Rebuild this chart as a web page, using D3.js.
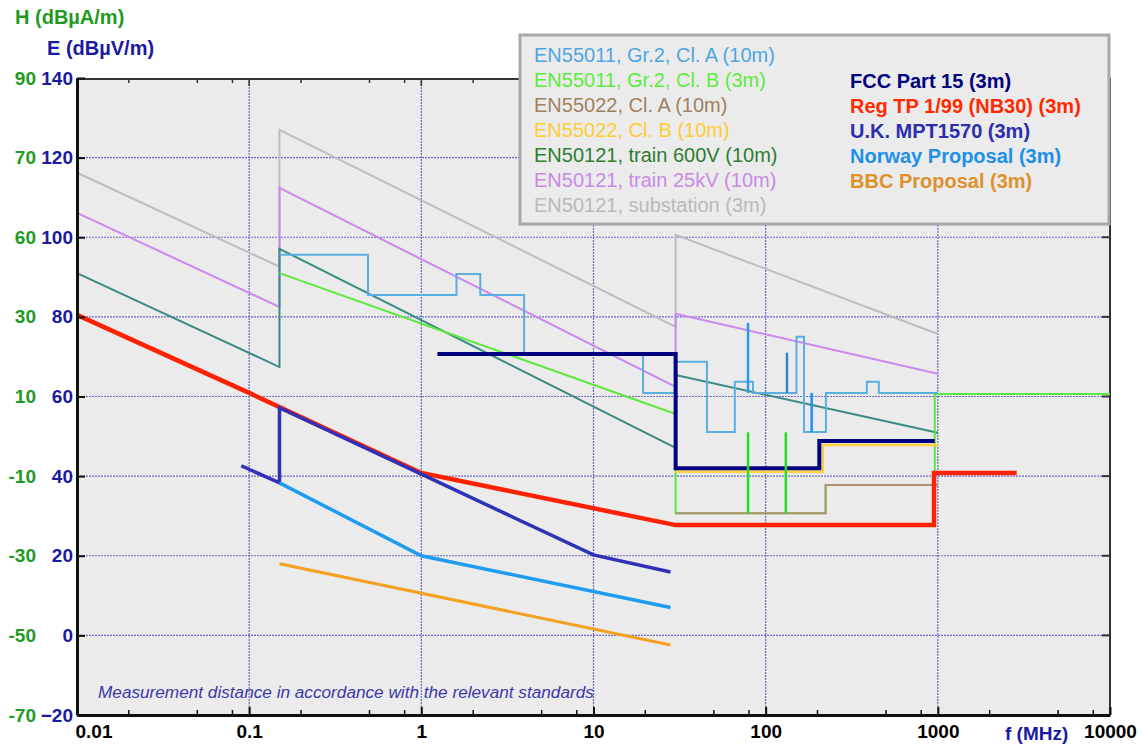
<!DOCTYPE html>
<html>
<head>
<meta charset="utf-8">
<script src="https://cdn.jsdelivr.net/npm/d3@7"></script>
<style>
  body { margin: 0; background: #ffffff; }
  svg { display: block; font-family: "Liberation Sans", Arial, sans-serif; }
</style>
</head>
<body>
<svg id="chart" width="1144" height="746"></svg>
<script>
// ---- axis ticks and labels ----
const freqTicks = [0.01, 0.1, 1, 10, 100, 1000, 10000];
const freqLabels = ["0.01", "0.1", "1", "10", "100", "1000", "10000"];
const freqMinor = [0.02, 0.05, 0.08, 0.2, 0.5, 0.8, 2, 5, 8, 20, 50, 80, 200, 500, 800, 2000, 5000, 8000];
const eTicks = [-20, 0, 20, 40, 60, 80, 100, 120, 140];
const hLabels = ["-70", "-50", "-30", "-10", "10", "30", "60", "70", "90"];

// ---- limit lines: [frequency MHz, field strength dBµV/m] ----
const en50121Substation = [[0.01, 116.2], [0.15, 92.6], [0.15, 127], [30, 77.5], [30, 100.6], [1000, 75.7]];
const en50121Train25kV  = [[0.01, 106.1], [0.15, 82.5], [0.15, 112.4], [30, 62.4], [30, 80.8], [1000, 65.7]];
const en50121Train600V  = [[0.01, 91], [0.15, 67.4], [0.15, 97.1], [30, 47.1], [30, 65.4], [1000, 50.9]];
const en55011ClB        = [[0.15, 91], [30, 55.6], [30, 30.7], [223, 30.7], [223, 37.8], [960, 37.8], [960, 60.6], [10000, 60.6]];
const en55011ClBSpikeA  = [[79, 30.7], [79, 51]];
const en55011ClBSpikeB  = [[131, 30.7], [131, 51]];
const en55022ClA        = [[30, 30.7], [223, 30.7], [223, 37.8], [1000, 37.8]];
const en55022ClB        = [[30, 41.1], [215, 41.1], [215, 47.8], [1000, 47.8]];
const en55011ClA        = [[0.15, 95.6], [0.49, 95.6], [0.49, 85.5], [1.6, 85.5], [1.6, 90.8], [2.2, 90.8], [2.2, 85.5],
                           [3.95, 85.5], [3.95, 70.7], [19.4, 70.7], [19.4, 60.9], [30, 60.9], [30, 68.7], [45.6, 68.7],
                           [45.6, 51.1], [66.2, 51.1], [66.2, 63.7], [84.4, 63.7], [84.4, 60.9], [151, 60.9], [151, 75],
                           [167, 75], [167, 51.1], [224, 51.1], [224, 60.9], [387, 60.9], [387, 63.7], [454, 63.7],
                           [454, 60.9], [1000, 60.9]];
const en55011ClASpike1  = [[79, 60.9], [79, 78.5]];
const en55011ClASpike2  = [[133, 60.9], [133, 71]];
const en55011ClANotch   = [[185, 60.9], [185, 51.1]];
const fccPart15         = [[1.24, 70.7], [30, 70.7], [30, 42], [205, 42], [205, 48.8], [960, 48.8]];
const regTP199          = [[0.01, 80.5], [0.1, 60.9], [1, 40.8], [30, 27.7], [950, 27.7], [950, 40.8], [2870, 40.8]];
const ukMPT1570         = [[0.09, 42.6], [0.15, 38.3], [0.15, 57.2], [1, 40.5], [10, 20.2], [28, 15.9]];
const norwayProposal    = [[0.15, 38.3], [1, 20], [28, 7]];
const bbcProposal       = [[0.15, 18], [28, -2.4]];

// ---- legend entries ----
const legendLeft = [
  ["EN55011, Gr.2, Cl. A (10m)", "#4ea6e0"],
  ["EN55011, Gr.2, Cl. B (3m)", "#5cec3c"],
  ["EN55022, Cl. A (10m)", "#a08262"],
  ["EN55022, Cl. B (10m)", "#ffcc33"],
  ["EN50121, train 600V (10m)", "#2e7d32"],
  ["EN50121, train 25kV (10m)", "#c98ae8"],
  ["EN50121, substation (3m)", "#bababa"]
];
const legendRight = [
  ["FCC Part 15 (3m)", "#000080"],
  ["Reg TP 1/99 (NB30) (3m)", "#ff2a00"],
  ["U.K. MPT1570 (3m)", "#2d2db0"],
  ["Norway Proposal (3m)", "#1e90e8"],
  ["BBC Proposal (3m)", "#e0902a"]
];

const svg = d3.select("#chart");
const L = 77, R = 1110, T = 78, B = 715;

const x = d3.scaleLog().domain([0.01, 10000]).range([L, R]);
const y = d3.scaleLinear().domain([-20, 140]).range([B, T]);

// plot background
svg.append("rect").attr("x", L).attr("y", T).attr("width", R - L).attr("height", B - T).attr("fill", "#ebebeb");

// dotted grid
const grid = svg.append("g").attr("stroke", "#4a4ab8").attr("stroke-width", 1.2).attr("stroke-dasharray", "2,1").attr("opacity", 0.8);
grid.selectAll("line.v").data(freqTicks.slice(1, -1)).join("line")
  .attr("x1", d => x(d)).attr("x2", d => x(d)).attr("y1", T).attr("y2", B);
grid.selectAll("line.h").data(eTicks.slice(1, -1)).join("line")
  .attr("x1", L).attr("x2", R).attr("y1", d => y(d)).attr("y2", d => y(d));

// frame: top and right edges with inward ticks
svg.append("line").attr("x1", L).attr("x2", R).attr("y1", T + 1).attr("y2", T + 1).attr("stroke", "#333").attr("stroke-width", 2);
svg.append("line").attr("x1", R).attr("x2", R).attr("y1", T).attr("y2", B).attr("stroke", "#333").attr("stroke-width", 2);
svg.append("g").selectAll("line").data(eTicks).join("line")
  .attr("x1", R - 8).attr("x2", R).attr("y1", d => y(d)).attr("y2", d => y(d)).attr("stroke", "#333").attr("stroke-width", 2);
svg.append("g").selectAll("line").data(freqTicks.concat(freqMinor)).join("line")
  .attr("x1", d => x(d)).attr("x2", d => x(d)).attr("y1", T).attr("y2", d => T + (freqTicks.includes(d) ? 8 : 5))
  .attr("stroke", "#333").attr("stroke-width", 1.5);

// limit lines
const line = d3.line().x(d => x(d[0])).y(d => y(d[1]));
function draw(data, color, width) {
  svg.append("path").datum(data).attr("d", line).attr("fill", "none")
    .attr("stroke", color).attr("stroke-width", width).attr("stroke-linejoin", "miter").attr("stroke-linecap", "butt");
}
draw(en50121Substation, "#bdbdbd", 2);
draw(en50121Train25kV, "#cc88ee", 2);
draw(en50121Train600V, "#3a8a85", 2);
draw(en55011ClB, "#5ee83e", 2);
draw(en55022ClA, "#b09070", 2);
draw(en55022ClB, "#ffd040", 2.5);
draw(en55011ClA, "#5aafe0", 2);
draw(en55011ClASpike1, "#2a9be8", 2.5);
draw(en55011ClASpike2, "#3388cc", 2.5);
draw(en55011ClANotch, "#1e90ff", 2.5);
draw(fccPart15, "#000080", 4);
draw(en55011ClBSpikeA, "#22dd22", 2.5);
draw(en55011ClBSpikeB, "#22dd22", 2.5);
draw(regTP199, "#ff2200", 4.5);
draw(ukMPT1570, "#3030b8", 3.5);
draw(norwayProposal, "#1e9cf0", 3.5);
draw(bbcProposal, "#f5a020", 3);

// bottom axis (ticks point into the plot)
const xAxis = d3.axisBottom(x).tickValues(freqTicks).tickSizeInner(-8).tickSizeOuter(0).tickPadding(10)
  .tickFormat((d, i) => freqLabels[i]);
const gx = svg.append("g").attr("transform", `translate(0,${B})`).call(xAxis);
gx.select(".domain").attr("stroke", "#111").attr("stroke-width", 3);
gx.selectAll(".tick line").attr("stroke", "#111").attr("stroke-width", 2);
gx.selectAll(".tick text").attr("fill", "#000").attr("font-size", 19).attr("font-weight", "bold")
  .attr("font-family", "Liberation Sans, Arial, sans-serif");
gx.selectAll(".tick").filter(d => d === 0.01).select("text").attr("text-anchor", "start").attr("x", -2);
svg.append("g").selectAll("line").data(freqMinor).join("line")
  .attr("x1", d => x(d)).attr("x2", d => x(d)).attr("y1", B).attr("y2", B - 5).attr("stroke", "#111").attr("stroke-width", 1.5);

// left axis, E values
const yAxis = d3.axisLeft(y).tickValues(eTicks).tickSizeInner(-8).tickSizeOuter(0).tickPadding(4);
const gy = svg.append("g").attr("transform", `translate(${L},0)`).call(yAxis);
gy.select(".domain").attr("stroke", "#111").attr("stroke-width", 3);
gy.selectAll(".tick line").attr("stroke", "#111").attr("stroke-width", 2);
gy.selectAll(".tick text").attr("fill", "#1a1aa0").attr("font-size", 19).attr("font-weight", "bold")
  .attr("font-family", "Liberation Sans, Arial, sans-serif");

// left axis, H values
const hAxis = d3.axisLeft(y).tickValues(eTicks).tickSize(0).tickPadding(41).tickFormat((d, i) => hLabels[i]);
const gh = svg.append("g").attr("transform", `translate(${L},0)`).call(hAxis);
gh.select(".domain").remove();
gh.selectAll(".tick text").attr("fill", "#1f9a1f").attr("font-size", 19).attr("font-weight", "bold")
  .attr("font-family", "Liberation Sans, Arial, sans-serif");

// axis titles
svg.append("text").attr("x", 15).attr("y", 24).attr("fill", "#1f9a1f").attr("font-size", 20).attr("font-weight", "bold").text("H (dBµA/m)");
svg.append("text").attr("x", 47).attr("y", 55).attr("fill", "#1a1aa0").attr("font-size", 20).attr("font-weight", "bold").text("E (dBµV/m)");
svg.append("text").attr("x", 1005).attr("y", 740).attr("fill", "#1a1aa0").attr("font-size", 19).attr("font-weight", "bold").text("f (MHz)");

// note
svg.append("text").attr("x", 98).attr("y", 698).attr("fill", "#3a3aa8").attr("font-size", 17.2).attr("font-style", "italic")
  .text("Measurement distance in accordance with the relevant standards");

// legend
const lg = svg.append("g");
lg.append("rect").attr("x", 520).attr("y", 35).attr("width", 589).attr("height", 189)
  .attr("fill", "#ebebeb").attr("stroke", "#a8a8a8").attr("stroke-width", 3);
lg.selectAll("text.l").data(legendLeft).join("text")
  .attr("x", 534).attr("y", (d, i) => 62 + i * 25).attr("fill", d => d[1]).attr("font-size", 20).text(d => d[0]);
lg.selectAll("text.r").data(legendRight).join("text")
  .attr("x", 850).attr("y", (d, i) => 88 + i * 25).attr("fill", d => d[1]).attr("font-size", 20).attr("font-weight", "bold").text(d => d[0]);
</script>
</body>
</html>
